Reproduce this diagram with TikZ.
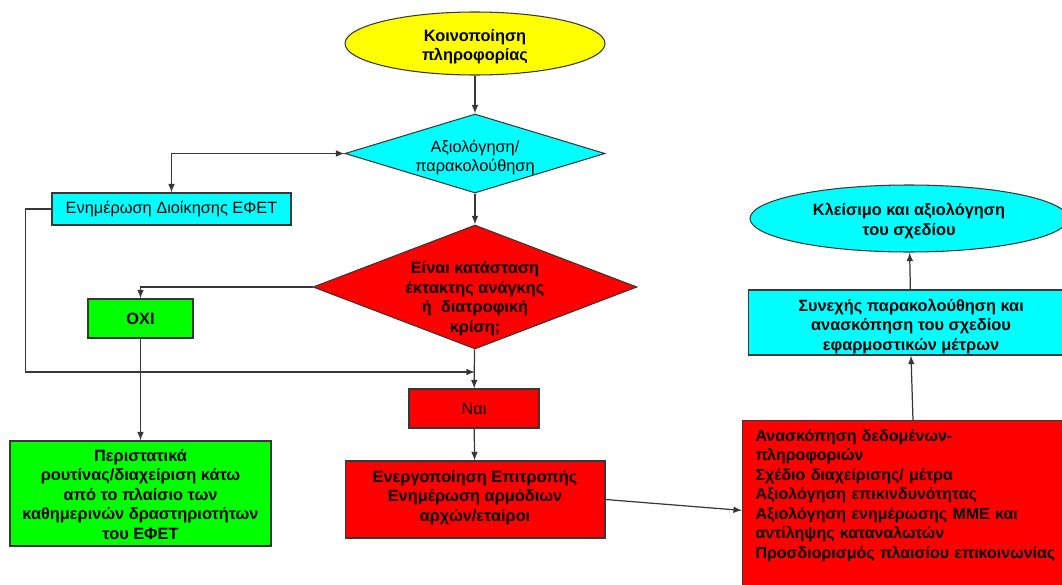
\documentclass[tikz,border=0pt]{standalone}
\usepackage{fontspec}
\setmainfont{Liberation Sans}
\usepackage{tikz}
\usetikzlibrary{positioning}
\usetikzlibrary{arrows}
\usetikzlibrary{shapes.geometric}
\definecolor{yell}{RGB}{255,255,0}
\definecolor{cyn}{RGB}{0,255,255}
\definecolor{rd}{RGB}{255,0,0}
\definecolor{grn}{RGB}{0,255,0}
\definecolor{edge}{RGB}{55,55,55}
% text block of a shape, lowered a bit, not widening the shape
\newcommand{\boxtext}[2]{\raisebox{#1}[0pt][0pt]{\makebox[0pt]{\begin{tabular}{@{}c@{}}#2\end{tabular}}}}

\begin{document}
\begin{tikzpicture}[x=0.02cm, y=-0.02cm, >=latex,
txt/.style={font=\fontsize{9.3}{11.1}\selectfont, align=center, text=black},
box/.style={txt, rectangle, draw=edge, line width=0.6pt, inner sep=0pt, fill=#1},
oval/.style={txt, ellipse, draw=edge, line width=0.6pt, inner sep=0pt, fill=#1},
rhomb/.style={txt, diamond, draw=edge, line width=0.6pt, inner sep=0pt, fill=#1},
link/.style={draw=edge, line width=0.7pt}]
\clip (0,0) rectangle (1062,585);

% centre column
\node [oval=yell, minimum width=5.2cm, minimum height=1.26cm] (info) at (475,43.5) {\boxtext{-4.3pt}{\bfseries Κοινοποίηση\\ \bfseries πληροφορίας}};
\node [rhomb=cyn, aspect=3.3, minimum width=5.2cm, minimum height=1.58cm] (eval) at (475,153.5) {\boxtext{-5pt}{Αξιολόγηση/\\ παρακολούθηση}};
\node [rhomb=rd, aspect=2.6, minimum width=6.48cm, minimum height=2.48cm] (crisis) at (475,287) {\boxtext{-9pt}{\bfseries Είναι κατάσταση\\ \bfseries έκτακτης ανάγκης\\ \bfseries ή~ διατροφική\\ \bfseries κρίση;}};
\node [box=rd, minimum width=2.6cm, minimum height=0.78cm] (yes) at (474,408.5) {Ναι};
\node [box=rd, minimum width=5.2cm, minimum height=1.54cm] (activate) at (475,499.5) {\boxtext{-1.2pt}{\bfseries Ενεργοποίηση Επιτροπής\\ \bfseries Ενημέρωση αρμόδιων\\ \bfseries αρχών/εταίροι}};

% left column
\node [box=cyn, minimum width=4.78cm, minimum height=0.64cm] (manage) at (171.5,209) {Ενημέρωση Διοίκησης ΕΦΕΤ};
\node [box=grn, minimum width=2.1cm, minimum height=0.78cm] (no) at (140.5,318.5) {\bfseries ΟΧΙ};
\node [box=grn, minimum width=5.22cm, minimum height=2.1cm] (routine) at (140.5,493.5) {\boxtext{-4pt}{\bfseries Περιστατικά\\ \bfseries ρουτίνας/διαχείριση κάτω\\ \bfseries από το πλαίσιο των\\ \bfseries καθημερινών δραστηριοτήτων\\ \bfseries του ΕΦΕΤ}};

% right column
\node [box=rd, font=\fontsize{9.1}{11.1}\selectfont, anchor=north west, minimum width=6.66cm, text width=6.3cm, align=left, inner xsep=0.26cm, inner ysep=0.18cm, text depth=3cm] (review) at (742,420) {\bfseries Ανασκόπηση δεδομένων-\\ \bfseries πληροφοριών\\ \bfseries Σχέδιο διαχείρισης/ μέτρα\\ \bfseries Αξιολόγηση επικινδυνότητας\\ \bfseries Αξιολόγηση ενημέρωσης ΜΜΕ και\\ \bfseries αντίληψης καταναλωτών\\ \bfseries Προσδιορισμός πλαισίου επικοινωνίας};
\node [box=cyn, minimum width=6.52cm, minimum height=1.3cm] (monitor) at (911,322.5) {\boxtext{-4.8pt}{\bfseries Συνεχής παρακολούθηση και\\ \bfseries ανασκόπηση του σχεδίου\\ \bfseries εφαρμοστικών μέτρων}};
\node [oval=cyn, minimum width=6.36cm, minimum height=1.34cm] (close) at (909,218.5) {\boxtext{-4pt}{\bfseries Κλείσιμο και αξιολόγηση\\ \bfseries του σχεδίου}};

\coordinate (join) at (475,372);

\draw [link,->] (info) -- (eval);
\draw [link,<->] (eval.west) -| (manage.north);
\draw [link,->] (eval) -- (crisis);
\draw [link,->] (crisis.west) -| (no.north);
\draw [link,->] (manage.west) -- ++(-26,0) |- (join);
\draw [link,->] (no) -- (routine);
\draw [link,->] (crisis) -- (yes);
\draw [link,->] (yes) -- (activate);
\draw [link,->] (activate.east) -- (review.west);
\draw [link,->] (review.north) -- (monitor.south);
\draw [link,->] (monitor) -- (close);
\end{tikzpicture}
\end{document}
